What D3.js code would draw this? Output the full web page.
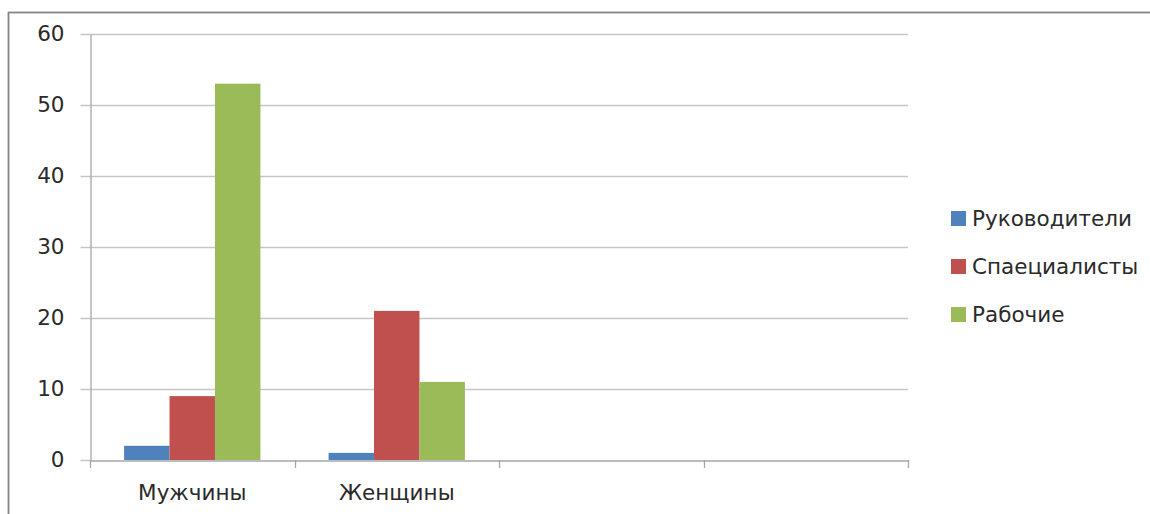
<!DOCTYPE html>
<html>
<head>
<meta charset="utf-8">
<script src="https://cdn.jsdelivr.net/npm/d3@7"></script>
<style>
    body { margin: 0; background: #fff; }
    svg { display: block; }
</style>
</head>
<body>
<div id="chart-container"></div>
<script>
const categories = ["Мужчины", "Женщины", "", " "];
const seriesNames = ["Руководители", "Спаециалисты", "Рабочие"];
const seriesColors = ["#4f81bd", "#c0504d", "#9bbb59"];
const rukovoditeli = [2, 1, null, null];
const specialisty = [9, 21, null, null];
const rabochie = [53, 11, null, null];
const yTicks = [0, 10, 20, 30, 40, 50, 60];

const seriesValues = [rukovoditeli, specialisty, rabochie];

const width = 1150;
const height = 514;
const plot = { left: 90, right: 908, top: 34, bottom: 460 };
const font = "'DejaVu Sans', sans-serif";
const fontSize = "21.5px";

const svg = d3.select("#chart-container")
    .append("svg")
    .attr("width", width)
    .attr("height", height);

// outer chart frame (cut by the picture edge on the right and bottom)
svg.append("rect")
    .attr("x", 8.5)
    .attr("y", 12.5)
    .attr("width", width + 20)
    .attr("height", height + 20)
    .attr("fill", "none")
    .attr("stroke", "#858585")
    .attr("stroke-width", 1.8);

const x = d3.scaleBand()
    .domain(categories)
    .range([plot.left, plot.right]);

// gap width 150% like the office chart
const inner = d3.scaleBand()
    .domain(seriesNames)
    .range([0, x.bandwidth()])
    .paddingOuter(0.75)
    .paddingInner(0);

const y = d3.scaleLinear()
    .domain([0, 60])
    .range([plot.bottom, plot.top]);

// gridlines
svg.append("g")
    .selectAll("line")
    .data(yTicks.filter(d => d > 0))
    .join("line")
    .attr("x1", plot.left)
    .attr("x2", plot.right)
    .attr("y1", d => y(d) + 0.5)
    .attr("y2", d => y(d) + 0.5)
    .attr("stroke", "#c6c6c6")
    .attr("stroke-width", 1.5);

// y axis
const yAxis = svg.append("g")
    .attr("transform", `translate(${plot.left + 0.5},0)`)
    .call(d3.axisLeft(y).tickValues(yTicks).tickSize(10).tickPadding(16).tickSizeOuter(0));
yAxis.select(".domain").attr("stroke", "#a6a6a6").attr("stroke-width", 1.3);
yAxis.selectAll(".tick line").attr("stroke", "#c6c6c6").attr("stroke-width", 1.5);
yAxis.selectAll(".tick text")
    .attr("fill", "#2a2a2a")
    .style("font-family", font)
    .style("font-size", fontSize);

// bars
const groups = svg.append("g")
    .selectAll("g")
    .data(seriesNames)
    .join("g")
    .attr("fill", (d, i) => seriesColors[i]);

groups.selectAll("rect")
    .data((s, si) => categories.map((c, ci) => ({ cat: c, series: s, value: seriesValues[si][ci] }))
        .filter(d => d.value != null))
    .join("rect")
    .attr("x", d => x(d.cat) + inner(d.series))
    .attr("y", d => y(d.value))
    .attr("width", inner.bandwidth())
    .attr("height", d => y(0) - y(d.value));

// x axis
const xAxis = svg.append("g")
    .attr("transform", `translate(0,${plot.bottom + 0.5})`)
    .call(d3.axisBottom(x).tickSize(0).tickPadding(24).tickSizeOuter(0));
xAxis.select(".domain").attr("stroke", "#a6a6a6").attr("stroke-width", 1.5);
xAxis.selectAll(".tick text")
    .attr("fill", "#2a2a2a")
    .style("font-family", font)
    .style("font-size", fontSize);

// category boundary ticks
svg.append("g")
    .selectAll("line")
    .data(categories.map(c => x(c)).concat([plot.right]))
    .join("line")
    .attr("x1", d => Math.round(d) + 0.5)
    .attr("x2", d => Math.round(d) + 0.5)
    .attr("y1", plot.bottom)
    .attr("y2", plot.bottom + 8)
    .attr("stroke", "#a6a6a6")
    .attr("stroke-width", 1.3);

// legend
const legend = svg.append("g")
    .selectAll("g")
    .data(seriesNames)
    .join("g")
    .attr("transform", (d, i) => `translate(951,${218 + i * 48})`);

legend.append("rect")
    .attr("x", 0)
    .attr("y", -7)
    .attr("width", 15)
    .attr("height", 15)
    .attr("fill", (d, i) => seriesColors[i]);

legend.append("text")
    .attr("x", 21)
    .attr("y", 0)
    .attr("dy", "0.35em")
    .attr("fill", "#2a2a2a")
    .style("font-family", font)
    .style("font-size", fontSize)
    .text(d => d);
</script>
</body>
</html>
